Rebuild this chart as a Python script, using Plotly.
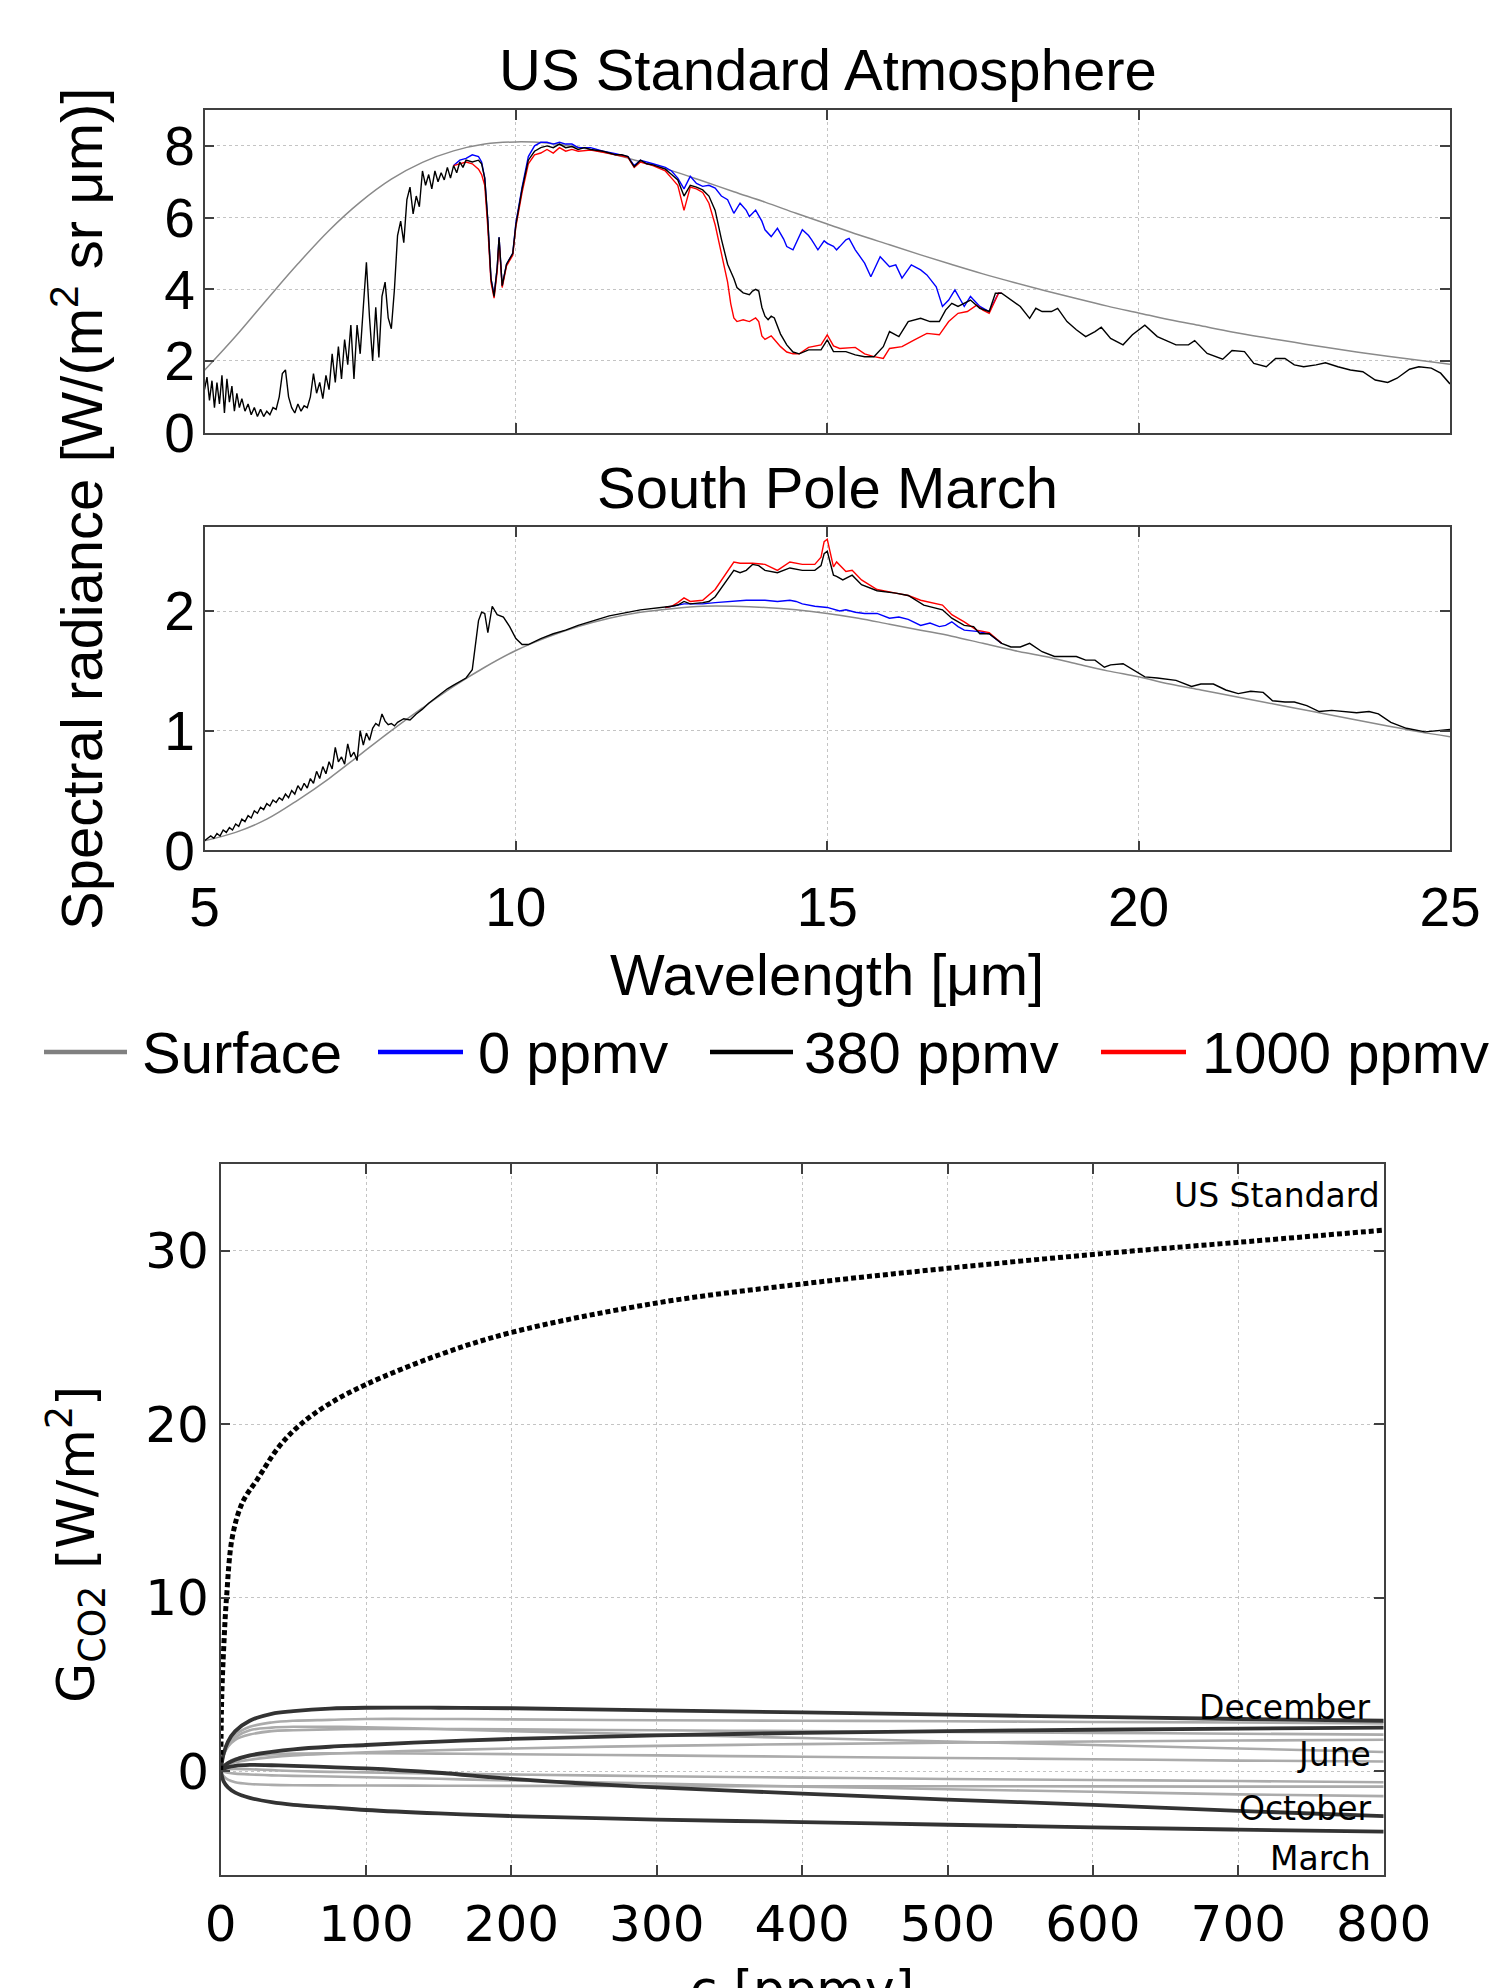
import plotly.graph_objects as go

# ---------------- DATA ----------------
# Top panel: US Standard Atmosphere (wavelength um, radiance)
US_SURF_WL = [5.0, 5.5, 6.0, 6.5, 7.0, 7.5, 8.0, 8.5, 9.0, 9.5, 10.0, 10.5, 11.0, 11.5, 12.0, 12.5,
              13.0, 13.5, 14.0, 14.5, 15.0, 15.5, 16.0, 16.5, 17.0, 17.5, 18.0, 18.5, 19.0, 19.5,
              20.0, 20.5, 21.0, 21.5, 22.0, 22.5, 23.0, 23.5, 24.0, 24.5, 25.0]
US_SURF = [1.74, 2.69, 3.71, 4.71, 5.64, 6.43, 7.07, 7.54, 7.86, 8.05, 8.11, 8.08, 7.96, 7.79, 7.56, 7.31,
           7.02, 6.72, 6.43, 6.12, 5.82, 5.52, 5.24, 4.96, 4.69, 4.43, 4.19, 3.96, 3.74, 3.53,
           3.34, 3.15, 2.98, 2.81, 2.66, 2.52, 2.38, 2.25, 2.13, 2.02, 1.91]

US_380 = [(5.00,1.2),(5.04,1.55),(5.08,0.9),(5.12,1.45),(5.16,0.7),(5.20,1.4),(5.24,0.8),(5.28,1.6),
          (5.32,0.55),(5.36,1.5),(5.40,0.85),(5.44,1.3),(5.48,0.6),(5.52,1.1),(5.56,0.7),(5.60,0.95),
          (5.65,0.6),(5.70,0.8),(5.75,0.5),(5.80,0.7),(5.85,0.45),(5.90,0.65),(5.95,0.45),(6.00,0.6),
          (6.05,0.5),(6.10,0.7),(6.15,0.65),(6.20,1.0),(6.25,1.65),(6.30,1.75),(6.35,1.0),(6.40,0.7),
          (6.45,0.55),(6.50,0.8),(6.55,0.6),(6.60,0.75),(6.65,0.7),(6.70,1.0),(6.75,1.65),(6.80,1.1),
          (6.85,1.4),(6.90,0.95),(6.95,1.6),(7.00,1.2),(7.05,2.2),(7.10,1.4),(7.15,2.4),(7.20,1.5),
          (7.25,2.6),(7.30,1.9),(7.35,3.0),(7.40,1.5),(7.45,3.0),(7.50,2.2),(7.55,3.5),(7.60,4.75),
          (7.65,3.2),(7.70,2.0),(7.75,3.5),(7.80,2.1),(7.85,3.8),(7.90,4.2),(7.95,3.2),(8.00,2.9),
          (8.05,4.0),(8.10,5.5),(8.15,5.9),(8.20,5.3),(8.25,6.5),(8.30,6.85),(8.35,6.1),(8.40,6.6),
          (8.45,6.3),(8.50,7.3),(8.55,6.9),(8.60,7.2),(8.65,6.8),(8.70,7.3),(8.75,7.0),(8.80,7.25),
          (8.85,7.05),(8.90,7.4),(8.95,7.1),(9.00,7.45),(9.05,7.25),(9.10,7.55),(9.15,7.4),(9.20,7.6),
          (9.30,7.55),(9.40,7.6),(9.45,7.5),(9.50,7.1),(9.55,5.9),(9.60,4.3),(9.65,3.8),(9.70,4.6),
          (9.73,5.45),(9.78,4.1),(9.85,4.7),(9.95,5.0),(10.0,5.8),(10.1,6.8),(10.2,7.6),(10.3,7.85),
          (10.4,7.95),(10.5,8.0),(10.6,7.95),(10.7,8.05),(10.8,7.95),(10.9,7.98),(11.0,7.9),(11.1,7.95),
          (11.2,7.9),(11.3,7.88),(11.4,7.85),(11.5,7.8),(11.6,7.75),(11.7,7.75),(11.8,7.7),(11.85,7.55),
          (11.9,7.42),(12.0,7.6),(12.1,7.5),(12.2,7.47),(12.3,7.4),(12.4,7.35),(12.5,7.2),(12.6,7.05),
          (12.7,6.6),(12.8,6.9),(12.9,6.85),(13.0,6.77),(13.1,6.6),(13.2,6.2),(13.3,5.4),(13.4,4.7),
          (13.5,4.3),(13.55,4.05),(13.65,3.9),(13.75,3.85),(13.8,3.95),(13.85,4.0),(13.9,3.95),
          (13.95,3.5),(14.0,3.25),(14.05,3.15),(14.1,3.25),(14.15,3.2),(14.25,2.75),(14.35,2.45),
          (14.45,2.25),(14.55,2.2),(14.7,2.31),(14.9,2.31),(15.0,2.59),(15.1,2.26),(15.3,2.26),
          (15.45,2.17),(15.6,2.12),(15.75,2.12),(15.9,2.4),(16.0,2.82),(16.15,2.68),(16.3,3.1),
          (16.5,3.19),(16.65,3.1),(16.8,3.1),(16.9,3.42),(17.0,3.61),(17.1,3.52),(17.3,3.7),
          (17.45,3.47),(17.6,3.38),(17.7,3.89),(17.8,3.89),(17.95,3.7),(18.1,3.52),(18.25,3.19),
          (18.35,3.47),(18.45,3.38),(18.6,3.38),(18.7,3.47),(18.85,3.1),(19.0,2.87),(19.15,2.68),
          (19.3,2.82),(19.4,2.94),(19.55,2.63),(19.75,2.45),(19.9,2.73),(20.1,3.0),(20.3,2.68),
          (20.6,2.45),(20.8,2.45),(20.9,2.57),(21.1,2.21),(21.35,2.05),(21.5,2.29),(21.7,2.26),
          (21.85,1.93),(22.05,1.84),(22.2,2.07),(22.35,2.07),(22.5,1.89),(22.65,1.84),(22.85,1.89),
          (23.0,1.95),(23.2,1.84),(23.4,1.75),(23.6,1.7),(23.8,1.47),(24.0,1.4),(24.15,1.52),
          (24.35,1.77),(24.5,1.84),(24.7,1.8),(24.85,1.66),(25.0,1.36)]

US_0 = [(9.0,7.45),(9.1,7.6),(9.2,7.65),(9.3,7.75),(9.4,7.7),(9.45,7.55),(9.5,7.1),(9.55,5.9),(9.6,4.3),
        (9.65,3.85),(9.7,4.6),(9.73,5.45),(9.78,4.1),(9.85,4.7),(9.95,5.0),(10.0,5.85),(10.1,6.85),
        (10.2,7.7),(10.3,8.0),(10.4,8.1),(10.5,8.1),(10.6,8.05),(10.7,8.1),(10.8,8.05),(10.9,8.05),
        (11.0,7.95),(11.2,7.95),(11.4,7.85),(11.6,7.78),(11.8,7.7),(11.9,7.45),(12.0,7.6),(12.2,7.5),
        (12.4,7.4),(12.5,7.3),(12.6,7.1),(12.7,6.8),(12.8,7.15),(12.9,6.95),(13.0,6.87),(13.1,6.9),
        (13.2,6.82),(13.3,6.6),(13.4,6.5),(13.5,6.12),(13.6,6.4),(13.7,6.2),(13.75,6.03),(13.85,6.21),
        (13.95,5.9),(14.0,5.66),(14.1,5.47),(14.2,5.7),(14.3,5.4),(14.35,5.19),(14.45,5.1),(14.6,5.66),
        (14.7,5.5),(14.75,5.38),(14.85,5.1),(14.95,5.35),(15.0,5.28),(15.1,5.2),(15.15,5.1),(15.2,5.19),
        (15.3,5.38),(15.35,5.42),(15.45,5.1),(15.6,4.73),(15.7,4.35),(15.85,4.91),(16.0,4.63),
        (16.1,4.68),(16.2,4.31),(16.35,4.68),(16.5,4.54),(16.6,4.4),(16.75,4.07),(16.85,3.52),
        (16.95,3.7),(17.05,3.98),(17.2,3.52),(17.3,3.8),(17.45,3.52),(17.6,3.38),(17.75,3.89),(17.8,3.89)]

US_1000 = [(9.0,7.45),(9.2,7.55),(9.3,7.5),(9.4,7.35),(9.45,7.2),(9.5,6.9),(9.55,5.7),(9.6,4.2),
           (9.65,3.75),(9.7,4.5),(9.73,5.35),(9.78,4.05),(9.85,4.65),(9.95,4.95),(10.0,5.75),(10.1,6.7),
           (10.2,7.5),(10.3,7.75),(10.4,7.8),(10.5,7.9),(10.6,7.8),(10.7,7.95),(10.8,7.85),(10.9,7.9),
           (11.0,7.85),(11.2,7.88),(11.4,7.82),(11.6,7.75),(11.8,7.68),(11.9,7.4),(12.0,7.55),(12.2,7.45),
           (12.4,7.3),(12.5,7.1),(12.6,6.9),(12.7,6.2),(12.8,6.85),(12.9,6.8),(13.0,6.7),(13.1,6.4),
           (13.2,5.8),(13.3,5.0),(13.4,4.2),(13.45,3.6),(13.5,3.2),(13.55,3.1),(13.65,3.15),(13.75,3.1),
           (13.85,3.2),(13.9,3.1),(13.95,2.7),(14.0,2.6),(14.05,2.65),(14.1,2.7),(14.15,2.6),(14.25,2.4),
           (14.35,2.25),(14.45,2.2),(14.55,2.2),(14.7,2.38),(14.9,2.45),(15.0,2.73),(15.1,2.42),
           (15.2,2.35),(15.45,2.38),(15.6,2.2),(15.75,2.12),(15.9,2.07),(16.0,2.35),(16.2,2.4),
           (16.4,2.59),(16.6,2.77),(16.8,2.73),(16.95,3.1),(17.1,3.33),(17.25,3.38),(17.4,3.56),
           (17.5,3.42),(17.6,3.33),(17.75,3.89),(17.8,3.89)]

# Middle panel: South Pole March
SP_SURF = [0.08, 0.15, 0.26, 0.42, 0.6, 0.8, 1.0, 1.19, 1.37, 1.53, 1.67, 1.78, 1.87, 1.94, 1.99, 2.02,
           2.04, 2.04, 2.03, 2.01, 1.98, 1.94, 1.89, 1.84, 1.79, 1.73, 1.67, 1.62, 1.56, 1.5,
           1.45, 1.39, 1.34, 1.29, 1.24, 1.19, 1.14, 1.09, 1.04, 0.99, 0.95]

SP_380 = [(5.0,0.08),(5.1,0.12),(5.15,0.1),(5.2,0.14),(5.25,0.12),(5.3,0.17),(5.35,0.15),(5.4,0.19),
          (5.45,0.17),(5.5,0.22),(5.55,0.2),(5.6,0.26),(5.65,0.24),(5.7,0.29),(5.75,0.27),(5.8,0.33),
          (5.85,0.31),(5.9,0.36),(5.95,0.34),(6.0,0.39),(6.05,0.37),(6.1,0.42),(6.15,0.4),(6.2,0.44),
          (6.25,0.42),(6.3,0.47),(6.35,0.44),(6.4,0.5),(6.45,0.47),(6.5,0.54),(6.55,0.5),(6.6,0.56),
          (6.65,0.52),(6.7,0.6),(6.75,0.56),(6.8,0.66),(6.85,0.6),(6.9,0.7),(6.95,0.64),(7.0,0.74),
          (7.05,0.68),(7.1,0.86),(7.15,0.74),(7.2,0.78),(7.25,0.72),(7.3,0.89),(7.35,0.78),(7.4,0.82),
          (7.45,0.75),(7.5,1.0),(7.55,0.88),(7.6,0.98),(7.65,0.92),(7.7,1.02),(7.75,1.06),(7.8,1.04),
          (7.85,1.14),(7.9,1.08),(7.95,1.05),(8.0,1.06),(8.05,1.04),(8.1,1.07),(8.2,1.1),(8.3,1.09),
          (8.4,1.14),(8.5,1.18),(8.6,1.23),(8.7,1.27),(8.8,1.31),(8.9,1.35),(9.0,1.38),(9.1,1.41),
          (9.2,1.44),(9.3,1.51),(9.35,1.7),(9.4,1.92),(9.45,1.99),(9.5,1.98),(9.55,1.82),(9.62,2.04),
          (9.7,1.97),(9.8,1.95),(9.9,1.87),(10.0,1.77),(10.1,1.72),(10.2,1.72),(10.4,1.77),(10.6,1.81),
          (10.8,1.84),(11.0,1.88),(11.5,1.96),(12.0,2.01),(12.5,2.04),(12.6,2.05),(12.7,2.08),
          (12.8,2.06),(13.0,2.07),(13.1,2.08),(13.2,2.12),(13.3,2.19),(13.4,2.26),(13.5,2.34),
          (13.6,2.32),(13.7,2.34),(13.8,2.39),(13.9,2.38),(14.0,2.34),(14.2,2.32),(14.4,2.36),
          (14.6,2.34),(14.8,2.34),(14.9,2.38),(14.95,2.48),(15.0,2.5),(15.1,2.3),(15.15,2.29),
          (15.25,2.26),(15.4,2.3),(15.55,2.22),(15.8,2.17),(16.1,2.15),(16.3,2.13),(16.55,2.05),
          (16.85,2.01),(17.0,1.94),(17.2,1.88),(17.35,1.87),(17.45,1.81),(17.6,1.81),(17.8,1.73),
          (17.95,1.7),(18.1,1.7),(18.25,1.73),(18.45,1.66),(18.65,1.62),(18.8,1.62),(19.0,1.62),
          (19.15,1.59),(19.3,1.59),(19.45,1.53),(19.55,1.55),(19.75,1.56),(19.9,1.51),(20.1,1.45),
          (20.3,1.44),(20.6,1.42),(20.85,1.37),(21.0,1.39),(21.2,1.39),(21.4,1.34),(21.6,1.31),
          (21.8,1.33),(22.0,1.32),(22.15,1.25),(22.35,1.24),(22.5,1.24),(22.7,1.21),(22.9,1.16),
          (23.1,1.17),(23.3,1.16),(23.5,1.15),(23.7,1.16),(23.85,1.14),(24.05,1.07),(24.3,1.02),
          (24.6,0.99),(24.8,1.0),(25.0,1.01)]

SP_0 = [(12.4,2.03),(12.5,2.04),(12.6,2.05),(12.7,2.06),(12.9,2.06),(13.0,2.06),(13.2,2.07),
        (13.5,2.08),(13.7,2.09),(14.0,2.09),(14.2,2.08),(14.4,2.09),(14.5,2.08),(14.6,2.06),
        (14.8,2.04),(15.0,2.03),(15.2,2.0),(15.3,2.01),(15.45,1.99),(15.6,1.98),(15.8,1.98),
        (16.0,1.94),(16.15,1.95),(16.3,1.93),(16.5,1.88),(16.65,1.9),(16.8,1.87),(16.9,1.88),
        (17.0,1.91),(17.1,1.87),(17.2,1.84),(17.4,1.83),(17.6,1.81),(17.8,1.73)]

SP_1000 = [(12.4,2.03),(12.5,2.04),(12.6,2.07),(12.7,2.11),(12.8,2.08),(13.0,2.09),(13.2,2.18),
           (13.4,2.33),(13.5,2.41),(13.6,2.4),(13.8,2.4),(14.0,2.39),(14.2,2.34),(14.4,2.41),
           (14.6,2.39),(14.8,2.39),(14.9,2.45),(14.95,2.58),(15.0,2.6),(15.1,2.37),(15.15,2.41),
           (15.3,2.33),(15.4,2.34),(15.55,2.26),(15.8,2.18),(16.1,2.15),(16.3,2.13),(16.5,2.09),
           (16.85,2.05),(17.0,1.97),(17.2,1.91),(17.4,1.84),(17.6,1.82),(17.8,1.73)]

# Bottom panel: G_CO2 vs CO2 concentration
US_C = [0, 0.5, 1, 2, 4, 8, 15, 25, 40, 55, 75, 100, 150, 200, 300, 400, 500, 600, 700, 800]
US_G = [0, 3.5, 5, 7, 10, 13.5, 15.5, 16.8, 18.7, 20, 21.2, 22.3, 24.0, 25.3, 27.0, 28.1, 29.0, 29.8, 30.5, 31.2]

C_PPMV = [0, 2, 5, 10, 20, 35, 50, 75, 100, 150, 200, 300, 400, 500, 600, 700, 800]
G_DECEMBER = [0, 1.0, 1.7, 2.3, 2.9, 3.3, 3.45, 3.6, 3.65, 3.65, 3.62, 3.5, 3.38, 3.25, 3.12, 3.0, 2.9]
G_DARK_RISE = [0, 0.25, 0.45, 0.65, 0.9, 1.1, 1.25, 1.4, 1.5, 1.7, 1.85, 2.05, 2.2, 2.3, 2.38, 2.45, 2.5]
G_OCTOBER = [0, 0.12, 0.22, 0.3, 0.35, 0.33, 0.3, 0.22, 0.15, -0.1, -0.45, -0.95, -1.3, -1.65, -1.95, -2.3, -2.6]
G_MARCH = [0, -0.6, -0.95, -1.25, -1.55, -1.8, -1.95, -2.1, -2.25, -2.45, -2.6, -2.8, -2.95, -3.1, -3.25, -3.38, -3.5]
G_GRAY = [
    [0, 1.0, 1.6, 2.1, 2.55, 2.8, 2.9, 2.95, 3.0, 3.0, 2.98, 2.93, 2.9, 2.87, 2.83, 2.8, 2.75],
    [0, 0.9, 1.4, 1.8, 2.1, 2.3, 2.35, 2.4, 2.42, 2.42, 2.4, 2.35, 2.3, 2.25, 2.2, 2.15, 2.1],
    [0, 0.9, 1.5, 1.95, 2.35, 2.5, 2.55, 2.55, 2.52, 2.42, 2.3, 2.1, 1.9, 1.7, 1.5, 1.3, 1.1],
    [0, 0.2, 0.35, 0.5, 0.65, 0.8, 0.9, 1.0, 1.08, 1.2, 1.3, 1.45, 1.55, 1.63, 1.7, 1.76, 1.8],
    [0, 0.3, 0.5, 0.7, 0.85, 0.95, 1.0, 1.02, 1.02, 1.0, 0.97, 0.9, 0.82, 0.75, 0.68, 0.6, 0.55],
    [0, 0.05, 0.1, 0.12, 0.1, 0.05, 0.0, -0.05, -0.08, -0.15, -0.2, -0.3, -0.38, -0.46, -0.52, -0.58, -0.65],
    [0, -0.3, -0.5, -0.65, -0.75, -0.8, -0.82, -0.83, -0.84, -0.85, -0.86, -0.87, -0.88, -0.88, -0.89, -0.9, -0.9],
    [0, -0.05, -0.1, -0.15, -0.2, -0.25, -0.28, -0.32, -0.36, -0.45, -0.55, -0.72, -0.9, -1.05, -1.2, -1.35, -1.45],
]

LEGEND_LABELS = ["Surface", "0 ppmv", "380 ppmv", "1000 ppmv"]
LEGEND_COLORS = ["#808080", "#0000ff", "#000000", "#ff0000"]
MONTH_LABELS = ["December", "June", "October", "March"]

# ---------------- FIGURE ----------------
W, H = 1494, 1988
def px(x): return x / W
def py(y): return 1 - y / H

TOPFONT = "Liberation Sans, Arial, sans-serif"
BOTFONT = "DejaVu Sans, sans-serif"

fig = go.Figure()

def line(pairs_or_x, y=None, color="black", width=1.4, xa="x", ya="y", shape="linear", dash=None):
    if y is None:
        xs = [p[0] for p in pairs_or_x]
        ys = [p[1] for p in pairs_or_x]
    else:
        xs, ys = pairs_or_x, y
    fig.add_trace(go.Scatter(x=xs, y=ys, mode="lines", xaxis=xa, yaxis=ya, showlegend=False,
                             hoverinfo="skip",
                             line=dict(color=color, width=width, shape=shape, dash=dash)))

# top panel
line(US_SURF_WL, US_SURF, color="#8a8a8a", width=1.5, xa="x", ya="y", shape="spline")
line(US_0, color="#0000ff", width=1.4, xa="x", ya="y")
line(US_1000, color="#ff0000", width=1.4, xa="x", ya="y")
line(US_380, color="#000000", width=1.4, xa="x", ya="y")
# middle panel
line(US_SURF_WL, SP_SURF, color="#8a8a8a", width=1.5, xa="x2", ya="y2", shape="spline")
line(SP_0, color="#0000ff", width=1.4, xa="x2", ya="y2")
line(SP_1000, color="#ff0000", width=1.4, xa="x2", ya="y2")
line(SP_380, color="#000000", width=1.4, xa="x2", ya="y2")
# bottom panel
for g in G_GRAY:
    line(C_PPMV, g, color="#ababab", width=2.6, xa="x3", ya="y3", shape="spline")
for g in [G_DECEMBER, G_DARK_RISE, G_OCTOBER, G_MARCH]:
    line(C_PPMV, g, color="#333333", width=3.8, xa="x3", ya="y3", shape="spline")
line(US_C, US_G, color="#000000", width=5, xa="x3", ya="y3", shape="spline", dash="5px,3px")

axis_common = dict(showline=True, linecolor="#404040", linewidth=1.5, mirror="ticks",
                   ticks="inside", ticklen=10, tickwidth=1.5, tickcolor="#404040",
                   showgrid=True, gridcolor="#c4c4c4", griddash="dot", gridwidth=1,
                   zeroline=False, automargin=False)
top_tick = dict(family=TOPFONT, size=55, color="black")
bot_tick = dict(family=BOTFONT, size=50, color="black")

XD = [px(204.5), px(1450)]
fig.update_layout(
    width=W, height=H, margin=dict(l=0, r=0, t=0, b=0, autoexpand=False),
    paper_bgcolor="white", plot_bgcolor="white", showlegend=False,
    xaxis=dict(domain=XD, range=[5, 25], tickvals=[5, 10, 15, 20, 25], showticklabels=False,
               anchor="y", **axis_common),
    yaxis=dict(domain=[py(432.7), py(110)], range=[0, 9], tickvals=[0, 2, 4, 6, 8],
               tickfont=top_tick, ticklabelstandoff=-3, anchor="x", **axis_common),
    xaxis2=dict(domain=XD, range=[5, 25], tickvals=[5, 10, 15, 20, 25], tickfont=top_tick,
                ticklabelstandoff=8, anchor="y2", **axis_common),
    yaxis2=dict(domain=[py(850.3), py(527.3)], range=[0, 2.7], tickvals=[0, 1, 2],
                tickfont=top_tick, ticklabelstandoff=-3, anchor="x2", **axis_common),
    xaxis3=dict(domain=[px(220.7), px(1383.7)], range=[0, 800],
                tickvals=[0, 100, 200, 300, 400, 500, 600, 700, 800], tickfont=bot_tick,
                ticklabelstandoff=4, anchor="y3", **axis_common),
    yaxis3=dict(domain=[py(1875), py(1164.3)], range=[-6, 35], tickvals=[0, 10, 20, 30],
                tickfont=bot_tick, ticklabelstandoff=0, anchor="x3", **axis_common),
)

ann = []
def text(t, x, y, size, family=TOPFONT, xanchor="center", yanchor="middle", angle=0):
    ann.append(dict(text=t, x=px(x), y=py(y), xref="paper", yref="paper", showarrow=False,
                    xanchor=xanchor, yanchor=yanchor, textangle=angle,
                    font=dict(family=family, size=size, color="black")))

text("US Standard Atmosphere", 828, 69, 58)
text("South Pole March", 827, 487, 58)
text("Wavelength [\u03bcm]", 827, 975, 58)
text("Spectral radiance [W/(m<sup>2</sup> sr \u03bcm)]", 78, 509, 58, angle=-90)

# manual legend row
LEG_Y = 1052
leg_lines = [(44, 127, 140), (378, 463, 476), (710, 793, 802), (1101, 1186, 1200)]
shapes = []
for (x0, x1, xt), lab, col in zip(leg_lines, LEGEND_LABELS, LEGEND_COLORS):
    shapes.append(dict(type="line", xref="paper", yref="paper", x0=px(x0), x1=px(x1),
                       y0=py(LEG_Y), y1=py(LEG_Y), line=dict(color=col, width=4.5)))
    text(lab, xt, LEG_Y, 58, xanchor="left")

# bottom panel texts
text("G<sub>CO2</sub> [W/m<sup>2</sup>]", 76, 1545, 52, family=BOTFONT, angle=-90)
text("c [ppmv]", 802, 1958, 50, family=BOTFONT, yanchor="top")
text("US Standard", 1382, 1195, 33, family=BOTFONT, xanchor="right")
for lab, yy in zip(MONTH_LABELS, [1707, 1754, 1808, 1858]):
    text(lab, 1373, yy, 33, family=BOTFONT, xanchor="right")

fig.update_layout(annotations=ann, shapes=shapes)
fig.write_html("out.html", config={"displayModeBar": False},
               post_script="document.body.style.margin='0';document.body.style.padding='0';")
